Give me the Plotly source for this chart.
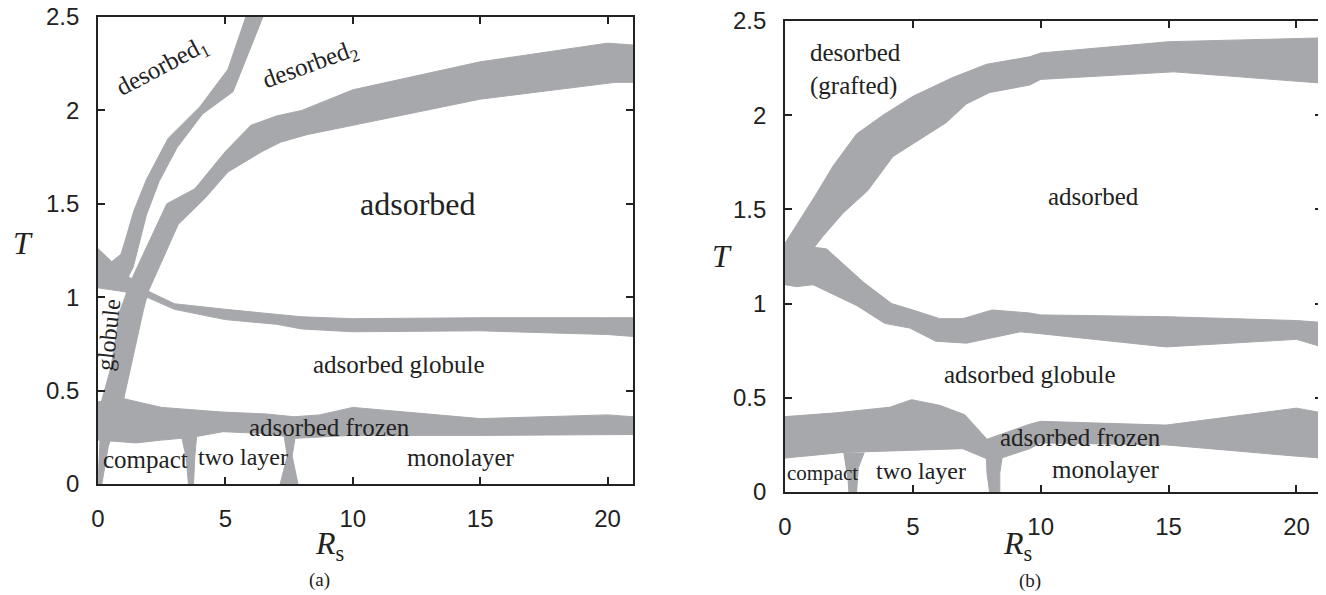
import plotly.graph_objects as go

GRAY = "#a7a8ab"

# ---------------- panel (a) : band edges (R_s, T) ----------------
a_des1_e1_x = [0.45, 0.9, 1.06, 1.4, 1.9, 2.75, 4.0, 5.1, 5.8]
a_des1_e1_t = [1.18, 1.23, 1.30, 1.46, 1.63, 1.85, 2.02, 2.22, 2.5]
a_des1_e2_x = [1.15, 1.38, 1.9, 2.4, 3.1, 4.1, 5.3, 6.47]
a_des1_e2_t = [1.10, 1.16, 1.44, 1.62, 1.80, 1.98, 2.10, 2.5]

a_des2_e1_x = [0.0, 0.15, 0.5, 0.87, 1.33, 2.17, 2.7, 3.8, 5.0, 6.0, 7.0, 8.0, 10, 15, 20, 21]
a_des2_e1_t = [0.0, 0.45, 0.62, 0.93, 1.10, 1.34, 1.50, 1.58, 1.78, 1.92, 1.97, 2.0, 2.11, 2.26, 2.36, 2.35]
a_des2_e2_x = [0.15, 0.4, 1.0, 1.16, 1.78, 1.97, 3.15, 4.2, 5.1, 6.44, 7.17, 8.2, 10, 15, 20.3, 21]
a_des2_e2_t = [0.0, 0.2, 0.45, 0.55, 0.93, 1.03, 1.39, 1.53, 1.67, 1.78, 1.83, 1.87, 1.92, 2.06, 2.15, 2.15]

a_glob_up_x = [0, 1, 2, 3, 5, 7, 8, 10, 15, 20, 21]
a_glob_up_t = [1.26, 1.13, 1.03, 0.965, 0.935, 0.91, 0.895, 0.885, 0.89, 0.89, 0.89]
a_glob_lo_x = [0, 1, 2, 3, 5, 7, 8, 10, 15, 20, 21]
a_glob_lo_t = [1.05, 1.03, 0.995, 0.935, 0.88, 0.855, 0.83, 0.815, 0.82, 0.80, 0.79]

a_froz_up_x = [0, 0.9, 2.5, 4.9, 6.6, 7.7, 8.7, 10, 15, 20, 21]
a_froz_up_t = [0.44, 0.46, 0.41, 0.385, 0.375, 0.36, 0.37, 0.41, 0.35, 0.37, 0.36]
a_froz_lo_x = [0, 1.5, 2.5, 3.7, 4.9, 6.6, 7.8, 9.9, 15, 21]
a_froz_lo_t = [0.235, 0.22, 0.235, 0.25, 0.28, 0.27, 0.245, 0.26, 0.26, 0.265]

a_sep1_l_x = [3.2, 3.45, 3.55]
a_sep1_l_t = [0.3, 0.15, 0.0]
a_sep1_r_x = [3.9, 3.8, 3.75]
a_sep1_r_t = [0.3, 0.15, 0.0]

a_sep2_l_x = [7.3, 7.43, 7.15]
a_sep2_l_t = [0.26, 0.15, 0.0]
a_sep2_r_x = [7.75, 7.62, 7.85]
a_sep2_r_t = [0.26, 0.15, 0.0]

# ---------------- panel (b) ----------------
b_des_up_x = [0, 1.24, 1.88, 2.8, 3.83, 5.0, 6.56, 7.88, 9.57, 10, 15, 21]
b_des_up_t = [1.32, 1.585, 1.73, 1.90, 2.0, 2.10, 2.20, 2.27, 2.31, 2.33, 2.39, 2.41]
b_des_lo_x = [0, 1.1, 1.5, 2.27, 3.24, 4.22, 5.27, 6.3, 7.1, 8.0, 9.57, 10, 15.2, 21]
b_des_lo_t = [1.30, 1.29, 1.36, 1.48, 1.60, 1.78, 1.87, 1.96, 2.06, 2.12, 2.16, 2.19, 2.23, 2.17]

b_glob_up_x = [0, 1.63, 3.1, 4.17, 5.0, 6.05, 6.95, 8.1, 9.57, 10, 15, 20, 21]
b_glob_up_t = [1.32, 1.29, 1.11, 1.0, 0.966, 0.92, 0.92, 0.966, 0.95, 0.94, 0.93, 0.91, 0.90]
b_glob_lo_x = [0, 0.46, 1.1, 2.8, 3.9, 4.88, 5.9, 7.1, 9.2, 10, 14.9, 20, 21]
b_glob_lo_t = [1.10, 1.09, 1.10, 0.99, 0.895, 0.87, 0.80, 0.79, 0.85, 0.84, 0.77, 0.81, 0.77]

b_froz_up_x = [0, 2.0, 4.1, 4.95, 6.05, 7.03, 7.9, 9.57, 10, 14.9, 20, 21]
b_froz_up_t = [0.40, 0.42, 0.45, 0.49, 0.46, 0.41, 0.28, 0.36, 0.375, 0.355, 0.445, 0.42]
b_froz_lo_x = [0, 2.27, 6.95, 8.0, 8.46, 9.57, 10, 14.9, 20, 21]
b_froz_lo_t = [0.18, 0.21, 0.23, 0.17, 0.18, 0.23, 0.26, 0.25, 0.19, 0.18]

b_sep1_l_x = [2.3, 2.47, 2.5]
b_sep1_l_t = [0.21, 0.06, 0.0]
b_sep1_r_x = [3.1, 2.87, 2.8]
b_sep1_r_t = [0.21, 0.13, 0.0]

b_sep2_l_x = [7.85, 7.9, 8.0]
b_sep2_l_t = [0.28, 0.1, 0.0]
b_sep2_r_x = [8.5, 8.4, 8.4]
b_sep2_r_t = [0.19, 0.1, 0.0]

fig = go.Figure()


def band(xa, ta, xb, tb, xr, yr):
    fig.add_trace(go.Scatter(
        x=list(xa) + list(xb)[::-1], y=list(ta) + list(tb)[::-1],
        fill="toself", fillcolor=GRAY, mode="lines",
        line=dict(width=1, color=GRAY), hoverinfo="skip",
        showlegend=False, xaxis=xr, yaxis=yr))


band(a_des1_e1_x, a_des1_e1_t, a_des1_e2_x, a_des1_e2_t, "x", "y")
band(a_des2_e1_x, a_des2_e1_t, a_des2_e2_x, a_des2_e2_t, "x", "y")
band(a_glob_up_x, a_glob_up_t, a_glob_lo_x, a_glob_lo_t, "x", "y")
band(a_froz_up_x, a_froz_up_t, a_froz_lo_x, a_froz_lo_t, "x", "y")
band(a_sep1_l_x, a_sep1_l_t, a_sep1_r_x, a_sep1_r_t, "x", "y")
band(a_sep2_l_x, a_sep2_l_t, a_sep2_r_x, a_sep2_r_t, "x", "y")

band(b_des_up_x, b_des_up_t, b_des_lo_x, b_des_lo_t, "x2", "y2")
band(b_glob_up_x, b_glob_up_t, b_glob_lo_x, b_glob_lo_t, "x2", "y2")
band(b_froz_up_x, b_froz_up_t, b_froz_lo_x, b_froz_lo_t, "x2", "y2")
band(b_sep1_l_x, b_sep1_l_t, b_sep1_r_x, b_sep1_r_t, "x2", "y2")
band(b_sep2_l_x, b_sep2_l_t, b_sep2_r_x, b_sep2_r_t, "x2", "y2")

AX = dict(showline=True, linecolor="#222", linewidth=1.8, mirror="ticks",
          ticks="inside", ticklen=7, tickwidth=1.5, tickcolor="#222",
          showgrid=False, zeroline=False, ticklabelstandoff=12, automargin=False,
          ticklabeloverflow="allow",
          tickfont=dict(family="Liberation Sans, Arial", size=24, color="#222"))

# the page body adds an 8 px offset, so the figure is 8 px smaller on each axis
fig.update_layout(
    width=1318, height=587,
    margin=dict(l=0, r=0, t=0, b=0, autoexpand=False),
    paper_bgcolor="white", plot_bgcolor="white",
    xaxis=dict(AX, domain=[0.0683, 0.4742], range=[0, 21], tick0=0, dtick=5, anchor="y"),
    yaxis=dict(AX, domain=[0.1891, 0.9847], range=[0, 2.5], tick0=0, dtick=0.5, anchor="x"),
    xaxis2=dict(AX, domain=[0.5895, 0.9970], range=[0, 21], tick0=0, dtick=5, anchor="y2"),
    yaxis2=dict(AX, domain=[0.1755, 0.9779], range=[0, 2.5], tick0=0, dtick=0.5, anchor="x2"),
)

SERIF = "Liberation Serif, Times New Roman, serif"


def lab(text, x, y, size, xr, yr, angle=0, align="center"):
    fig.add_annotation(text=text, x=x, y=y, xref=xr, yref=yr, showarrow=False,
                       textangle=angle, align=align,
                       font=dict(family=SERIF, size=size, color="#222"),
                       xanchor="center", yanchor="middle")


# panel (a) region labels
lab("desorbed<sub>1</sub>", 2.52, 2.23, 25, "x", "y", angle=-28)
lab("desorbed<sub>2</sub>", 8.35, 2.24, 25, "x", "y", angle=-20)
lab("adsorbed", 12.56, 1.50, 32, "x", "y")
lab("adsorbed globule", 11.8, 0.64, 25, "x", "y")
lab("adsorbed frozen", 9.09, 0.30, 25, "x", "y")
lab("monolayer", 14.25, 0.14, 25, "x", "y")
lab("compact", 1.85, 0.13, 25, "x", "y")
lab("two layer", 5.7, 0.145, 24, "x", "y")
lab("globule", 0.4, 0.80, 24, "x", "y", angle=-84)

# panel (b) region labels
lab("desorbed<br>(grafted)", 2.77, 2.24, 25, "x2", "y2", align="left")
lab("adsorbed", 12.07, 1.57, 25, "x2", "y2")
lab("adsorbed globule", 9.57, 0.626, 25, "x2", "y2")
lab("adsorbed frozen", 11.56, 0.29, 25, "x2", "y2")
lab("monolayer", 12.54, 0.117, 25, "x2", "y2")
lab("compact", 1.45, 0.10, 21, "x2", "y2")
lab("two layer", 5.31, 0.11, 24, "x2", "y2")

# axis titles and captions
lab("<i>T</i>", 0.0114, 0.5997, 32, "paper", "paper")
lab("<i>R</i><sub>s</sub>", 0.2443, 0.0835, 32, "paper", "paper")
lab("(a)", 0.2367, 0.0256, 19, "paper", "paper")
lab("<i>T</i>", 0.5417, 0.5775, 32, "paper", "paper")
lab("<i>R</i><sub>s</sub>", 0.7663, 0.0835, 32, "paper", "paper")
lab("(b)", 0.7754, 0.0239, 19, "paper", "paper")

fig.write_html("out.html")
